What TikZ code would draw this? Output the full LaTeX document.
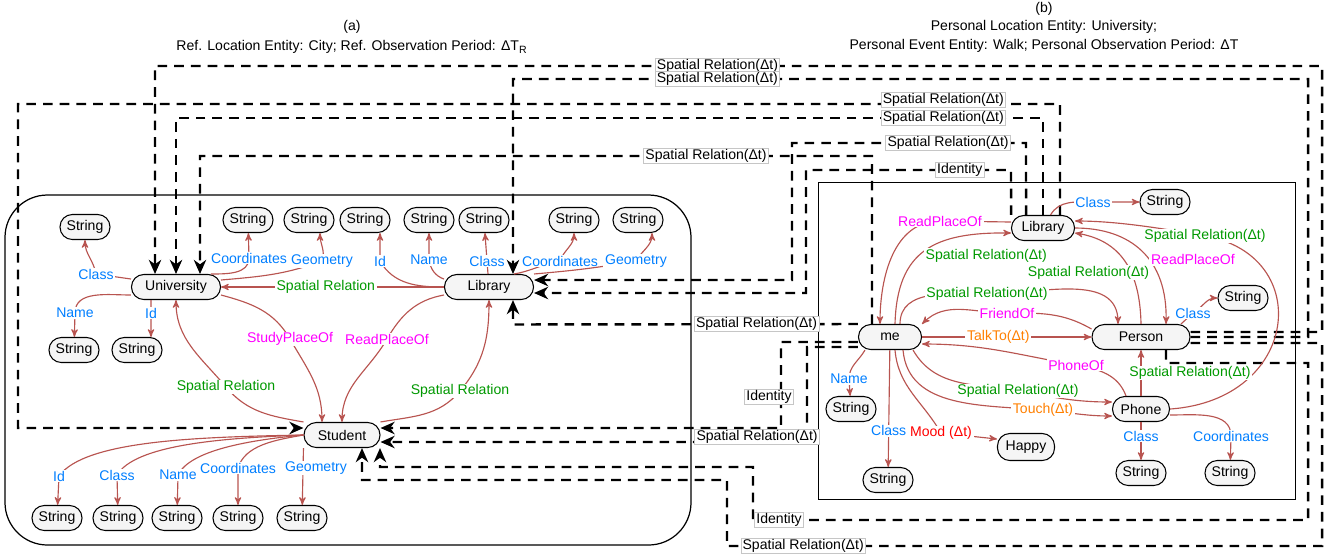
\documentclass[tikz,border=0pt]{standalone}
\usepackage{fontspec}
\setmainfont{Liberation Sans}
\usetikzlibrary{arrows,arrows.meta}
\definecolor{relred}{HTML}{B85450}
\definecolor{attblue}{HTML}{007FFF}
\definecolor{relgreen}{HTML}{009900}
\definecolor{ofpink}{HTML}{FF00FF}
\definecolor{actorange}{HTML}{FF8000}
\definecolor{moodred}{HTML}{FF0000}
\definecolor{entgray}{HTML}{F5F5F5}
\tikzset{>=stealth',
  every node/.style={font=\fontsize{8}{9.6}\selectfont},
  ent/.style={draw,fill=entgray,rounded corners=7pt,minimum height=0.5cm,minimum width=1cm,inner xsep=0.13cm,inner ysep=0pt,line width=0.6pt},
  rel/.style={->,draw=relred,line width=0.65pt},
  lbl/.style={fill=white,inner xsep=1pt,inner ysep=0.5pt},
  att/.style={lbl,text=attblue},
  sprel/.style={lbl,text=relgreen},
  ofrel/.style={lbl,text=ofpink},
  act/.style={lbl,text=actorange},
  mood/.style={lbl,text=moodred},
  cross/.style={-{Stealth[length=8pt,width=7pt,inset=2.5pt]},line width=1.4pt,dash pattern=on 5.5pt off 4pt},
  crosslbl/.style={fill=white,draw=gray!45,solid,line width=0.4pt,inner xsep=1pt,inner ysep=0.5pt}
}

\begin{document}
\begin{tikzpicture}[x=0.02cm,y=-0.02cm]
\useasboundingbox (0,0) rectangle (1334,556);

\node (titleA) at (352,27) {(a)};
\node (titleA2) at (352,47) {Ref. Location Entity: City; Ref. Observation Period: ΔT\textsubscript{R}};
\node (titleB) at (1044,9) {(b)};
\node (titleB2) at (1044,27) {Personal Location Entity: University;};
\node (titleB3) at (1044,46) {Personal Event Entity: Walk; Personal Observation Period: ΔT};

\draw[line width=0.7pt,rounded corners=0.85cm] (5,195) rectangle (691,545);
\draw[line width=0.5pt] (818,182) rectangle (1295,499);

% (a)
\node[ent,minimum width=1.78cm] (uni) at (176,287) {University};
\node[ent,minimum width=1.78cm] (libA) at (489,287) {Library};
\node[ent,minimum width=1.52cm] (stu) at (342,435) {Student};
\node[ent] (uniClass) at (85,227) {String};
\node[ent] (uniCoord) at (248,220) {String};
\node[ent] (uniGeom) at (309,220) {String};
\node[ent] (libAId) at (365,220) {String};
\node[ent] (libAName) at (429,220) {String};
\node[ent] (libAClass) at (484,220) {String};
\node[ent] (libACoord) at (574,220) {String};
\node[ent] (libAGeom) at (638,220) {String};
\node[ent] (uniName) at (74,350) {String};
\node[ent] (uniId) at (137,350) {String};
\node[ent] (stuId) at (57,518) {String};
\node[ent] (stuClass) at (118,518) {String};
\node[ent] (stuName) at (177,518) {String};
\node[ent] (stuCoord) at (238,518) {String};
\node[ent] (stuGeom) at (302,518) {String};

% (b)
\node[ent,minimum width=1.26cm] (libB) at (1043,228) {Library};
\node[ent] (libBClass) at (1165,202) {String};
\node[ent,minimum width=1.26cm] (me) at (890,337) {me};
\node[ent,minimum width=1.96cm] (per) at (1141,337) {Person};
\node[ent] (perClass) at (1243,298) {String};
\node[ent,minimum width=1.14cm] (phone) at (1141,409) {Phone};
\node[ent] (meName) at (851,409) {String};
\node[ent] (meClass) at (888,480) {String};
\node[ent,minimum width=1.14cm,minimum height=0.54cm] (happy) at (1026,447) {Happy};
\node[ent] (phClass) at (1141,473) {String};
\node[ent] (phCoord) at (1230,473) {String};

% cross links
\draw[cross] ([yshift=0.1cm]per.east) -- (1322,332) -- (1322,66) -- node[crosslbl,pos=0.518]{Spatial Relation(Δt)} (155,66) -- ([xshift=-0.42cm]uni.north);
\draw[cross] (per.east) -- (1308,337) -- (1308,79) -- node[crosslbl,pos=0.743]{Spatial Relation(Δt)} (513,79) -- ([xshift=0.48cm]libA.north);
\draw[cross] ([xshift=0.34cm]libB.north) -- (1060,104) -- node[crosslbl,pos=0.112,yshift=0.08cm]{Spatial Relation(Δt)} (18,104) -- (18,428) -- ([yshift=0.14cm]stu.west);
\draw[cross] (libB.north) -- (1043,118) -- node[crosslbl,pos=0.115]{Spatial Relation(Δt)} (176,118) -- (uni.north);
\draw[cross] ([xshift=-0.34cm]libB.north) -- (1026,143) -- node[crosslbl,pos=0.333]{Spatial Relation(Δt)} (792,143) -- (792,280) -- ([yshift=0.14cm]libA.east);
\draw[cross] ([xshift=-0.64cm]libB.north) -- (1011,170) -- node[crosslbl,pos=0.25]{Identity} (806,170) -- (806,293) -- ([yshift=-0.12cm]libA.east);
\draw[cross] ([xshift=-0.36cm]me.north) -- (872,156) -- node[crosslbl,pos=0.247]{Spatial Relation(Δt)} (200,156) -- ([xshift=0.48cm]uni.north);
\draw[cross] (me.north west) -- node[crosslbl,pos=0.294]{Spatial Relation(Δt)} (513,324.5) -- ([xshift=0.48cm]libA.south);
\draw[cross] ([yshift=-0.1cm]me.west) -- (781,342) -- node[crosslbl,pos=0.64,xshift=-0.24cm]{Identity} (781,428) -- ([yshift=0.14cm]stu.east);
\draw[cross] ([yshift=-0.2cm]me.west) -- (807,347) -- (807,442) -- node[crosslbl,pos=0.117,yshift=0.1cm]{Spatial Relation(Δt)} ([yshift=-0.14cm]stu.east);
\draw[cross] ([xshift=0.5cm]per.south) -- (1166,363) -- (1308,363) -- (1308,520) -- node[crosslbl,pos=0.953]{Identity} (753,520) -- (753,467) -- (380,467) -- ([xshift=0.76cm]stu.south);
\draw[cross] ([yshift=-0.12cm]per.east) -- (1322,343) -- (1322,546) -- node[crosslbl,pos=0.872]{Spatial Relation(Δt)} (727,546) -- (727,480) -- (362,480) -- ([xshift=0.4cm]stu.south);

% (a) relations
\draw[rel] ([yshift=0.16cm]uni.west) -- (96,274) node[att]{Class} to[out=100,in=-90] (uniClass);
\draw[rel] ([yshift=-0.16cm]uni.west) to[out=180,in=90] (75,313) node[att]{Name} -- (uniName);
\draw[rel] ([xshift=-0.5cm]uni.south) -- (151,313) node[att]{Id} -- ([xshift=0.28cm]uniId.north);
\draw[rel] ([xshift=0.7cm]uni.north) to[out=0,in=-90] (249,258) node[att]{Coordinates} -- (uniCoord);
\draw[rel] ([yshift=0.14cm]uni.east) to[out=5,in=200] (322,261) node[att]{Geometry} to[out=70,in=-90] ([xshift=0.22cm]uniGeom.south);
\draw[rel] (libA) -- node[sprel,pos=0.53]{Spatial Relation} (uni);
\draw[rel] (libA.west) to[out=180,in=-60] (380,261) node[att]{Id} -- ([xshift=0.3cm]libAId.south);
\draw[rel] (libA.170) to[out=160,in=-80] (429,260) node[att]{Name} -- (libAName);
\draw[rel] (libA) -- (487,261) node[att]{Class} -- (libAClass);
\draw[rel] ([xshift=0.5cm]libA.north) to[out=10,in=190] (560,261) node[att]{Coordinates} to[out=70,in=-90] (libACoord);
\draw[rel] (libA.north east) to[out=5,in=190] (636,261) node[att]{Geometry} to[out=60,in=-90] ([xshift=0.28cm]libAGeom.south);
\draw[rel] ([yshift=-0.16cm]uni.east) to[out=-15,in=120] (290,339) node[ofrel]{StudyPlaceOf} to[out=-60,in=90] ([xshift=-0.4cm]stu.north);
\draw[rel] ([yshift=-0.16cm]libA.west) to[out=190,in=60] (387,339) node[ofrel]{ReadPlaceOf} to[out=-120,in=90] (stu.north);
\draw[rel] (stu.north west) to[out=170,in=-50] (226,387) node[sprel]{Spatial Relation} to[out=130,in=-90] (uni.south);
\draw[rel] (stu.north east) to[out=10,in=-130] (460,391) node[sprel]{Spatial Relation} to[out=50,in=-90] (libA.south);
\draw[rel] (stu.west) .. controls (200,437) and (85,440) .. (59,476) node[att]{Id} -- (stuId);
\draw[rel] (stu.west) .. controls (220,438) and (135,445) .. (117,475) node[att]{Class} -- (stuClass);
\draw[rel] (stu.west) .. controls (250,440) and (190,450) .. (178,475) node[att]{Name} -- (stuName);
\draw[rel] (stu.west) .. controls (275,440) and (245,445) .. (238,468) node[att]{Coordinates} -- (stuCoord);
\draw[rel] (stu.south west) -- node[att,pos=0.35,xshift=0.26cm]{Geometry} (stuGeom);

% (b) relations
\draw[rel] (libB.60) to[out=60,in=180] (1093,202) node[att]{Class} -- (libBClass);
\draw[rel] ([yshift=0.12cm]libB.west) -- (940,221) node[ofrel]{ReadPlaceOf} to[out=180,in=90] ([xshift=-0.2cm]me.north);
\draw[rel] ([xshift=0.1cm]me.north) .. controls (897,250) and (935,232) .. node[sprel,xshift=1.22cm,yshift=-0.1cm]{Spatial Relation(Δt)} ([yshift=-0.1cm]libB.west);
\draw[rel] (per.north) .. controls (1140,270) and (1120,240) .. node[sprel,xshift=-0.72cm,yshift=-0.24cm]{Spatial Relation(Δt)} ([yshift=-0.1cm]libB.east);
\draw[rel] (libB.east) .. controls (1130,228) and (1168,258) .. node[ofrel,xshift=1.02cm,yshift=-0.17cm]{ReadPlaceOf} ([xshift=0.5cm]per.north);
\draw[rel] (phone.east) .. controls (1300,400) and (1315,255) .. (1205,236) node[sprel]{Spatial Relation(Δt)} .. controls (1150,226) and (1110,221) .. ([yshift=0.14cm]libB.east);
\draw[rel] ([xshift=0.2cm]me.north) to[out=90,in=180] (987,294) node[sprel]{Spatial Relation(Δt)} to[out=0,in=90] ([xshift=-0.46cm]per.north);
\draw[rel] ([yshift=0.16cm]per.west) to[out=150,in=0] (1007,313) node[ofrel]{FriendOf} to[out=180,in=45] (me.north east);
\draw[rel] (me) -- node[act,pos=0.45]{TalkTo(Δt)} (per);
\draw[rel] ([xshift=-0.3cm]phone.north) to[out=110,in=-10] (1076,365) node[ofrel]{PhoneOf} to[out=170,in=0] ([yshift=-0.14cm]me.east);
\draw[rel] ([xshift=0.46cm]me.south) to[out=-60,in=170] (1018,391) node[sprel]{Spatial Relation(Δt)} to[out=-10,in=180] ([yshift=0.14cm]phone.west);
\draw[rel] ([xshift=0.26cm]me.south) to[out=-85,in=175] (1043,410) node[act]{Touch(Δt)} to[out=-5,in=180] ([yshift=-0.14cm]phone.west);
\draw[rel] ([xshift=0.1cm]me.south) to[out=-85,in=120] (941,433) node[mood]{Mood (Δt)} -- ([yshift=0.16cm]happy.west);
\draw[rel] ([xshift=-0.5cm]me.south) to[out=-120,in=90] (849,379) node[att]{Name} -- (meName);
\draw[rel] (me) -- node[att,pos=0.69]{Class} (meClass);
\draw[rel] (phone) -- node[sprel,xshift=0.98cm]{Spatial Relation(Δt)} (per);
\draw[rel] ([xshift=0.8cm]per.north) -- (1193,313) node[att]{Class} to[out=30,in=180] (perClass);
\draw[rel] (phone) -- node[att,pos=0.37]{Class} (phClass);
\draw[rel] ([yshift=-0.12cm]phone.east) to[out=0,in=90] (1231,436) node[att]{Coordinates} -- (phCoord);
\end{tikzpicture}
\end{document}
